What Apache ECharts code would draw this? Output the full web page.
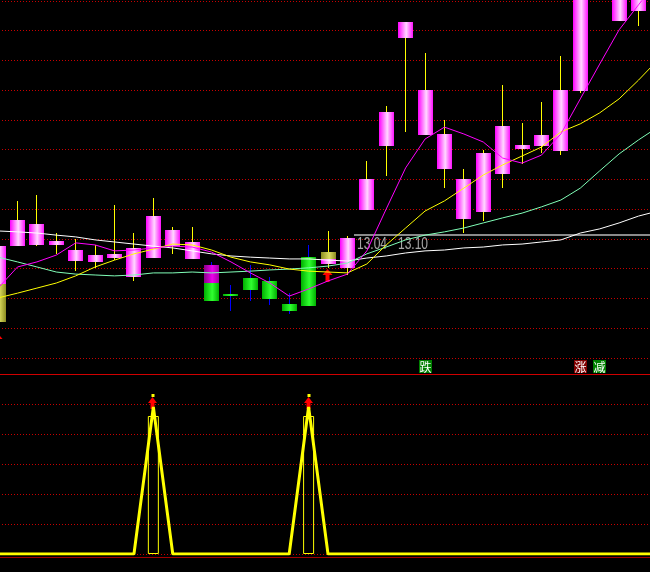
<!DOCTYPE html>
<html><head><meta charset="utf-8">
<script src="https://cdn.jsdelivr.net/npm/echarts@6/dist/echarts.min.js"></script>
<style>html,body{margin:0;padding:0;background:#000;overflow:hidden;width:650px;height:572px;position:relative}#c{position:absolute;left:-20px;top:0;width:700px;height:572px}</style>
</head><body><div id="c"></div>
<script>
// ---------- data ----------
const categories = ['1','2','3','4','5','6','7','8','9','10','11','12','13','14','15','16','17','18','19','20','21','22','23','24','25','26','27','28','29','30','31','32','33','34','35'];
const opens  = [12.949,13.076,13.080,13.080,13.026,13.023,13.036,12.972,13.036,13.076,13.033,13.013,12.915,12.969,12.959,12.882,13.039,13.016,13.003,13.197,13.413,13.776,13.450,13.335,13.167,13.191,13.318,13.403,13.413,13.396,13.597,13.937,13.833,13.866,null];
const closes = [13.076,13.164,13.150,13.093,13.063,13.046,13.050,13.070,13.177,13.130,13.090,12.892,12.908,12.929,12.898,12.858,12.875,13.056,13.103,13.302,13.527,13.829,13.601,13.453,13.302,13.389,13.480,13.416,13.450,13.601,14.038,14.172,14.038,14.004,null];
const lows   = [12.949,13.076,13.076,13.050,12.992,13.003,13.029,12.959,13.036,13.050,13.033,12.892,12.858,12.892,12.878,12.848,12.875,13.003,12.979,13.197,13.312,13.460,13.450,13.271,13.120,13.161,13.271,13.352,13.389,13.382,13.591,13.913,13.833,13.816,null];
const highs  = [13.076,13.228,13.248,13.120,13.100,13.080,13.214,13.120,13.238,13.140,13.140,13.023,12.945,13.013,12.972,12.918,13.080,13.127,13.110,13.362,13.547,13.829,13.725,13.500,13.335,13.399,13.618,13.490,13.561,13.715,14.105,14.206,14.072,14.038,null];
const ma5  = [12.935,13.006,13.023,13.046,13.087,13.080,13.060,13.063,13.070,13.076,13.073,13.056,13.023,12.986,12.952,12.908,12.932,12.959,12.982,13.060,13.201,13.339,13.436,13.476,13.453,13.426,13.372,13.355,13.382,13.453,13.571,13.688,13.803,13.887,13.971];
const ma10 = [12.902,12.918,12.935,12.952,12.976,13.006,13.029,13.050,13.066,13.083,13.080,13.063,13.039,13.023,13.013,12.999,12.992,12.989,12.986,13.016,13.080,13.137,13.194,13.228,13.271,13.315,13.349,13.379,13.409,13.460,13.487,13.524,13.571,13.634,13.702];
const ma20 = [13.039,13.023,13.006,12.989,12.982,12.979,12.976,12.979,12.986,12.986,12.989,12.986,12.989,12.992,12.996,12.999,13.003,13.009,13.019,13.050,13.073,13.097,13.113,13.124,13.137,13.154,13.171,13.187,13.208,13.231,13.271,13.329,13.386,13.433,13.476];
const ma60 = [13.127,13.124,13.120,13.113,13.107,13.097,13.090,13.083,13.076,13.070,13.060,13.050,13.043,13.039,13.036,13.033,13.033,13.029,13.026,13.036,13.043,13.053,13.060,13.063,13.070,13.073,13.080,13.083,13.090,13.097,13.120,13.134,13.154,13.177,13.194];
// overlay sticks: [category index, from price, to price, kind]
const overlays = [[0,12.949,12.821,'olive'],[11,13.013,12.952,'magenta'],[17,13.056,13.033,'olive']];
// up-arrow signals in price panel: [category index, tip price]
const upArrows = [[0,12.784],[17,12.999]];
// reference level line
const refLevel = 13.113, refStartCat = 18, refLabels = ['13.04','13.10'];
// text signals: [category index, text, kind]
const textSignals = [[22,'跌','down'],[30,'涨','up'],[31,'减','down']];
// lower indicator
const osc     = [0,0,0,0,0,0,0,0,98,0,0,0,0,0,0,0,98,0,0,0,0,0,0,0,0,0,0,0,0,0,0,0,0,0,0];
const oscBars = [null,null,null,null,null,null,null,null,92,null,null,null,null,null,null,null,92,null,null,null,null,null,null,null,null,null,null,null,null,null,null,null,null,null,null];
const oscSignals = [8,16];

// ---------- styles ----------
const Y_MIN = 12.7, Y_MAX = 13.9, Y_STEP = 0.1;
const BAND = 19.406, GL = 8.4, GW = BAND*categories.length;
const LG = (a,b,c)=>new echarts.graphic.LinearGradient(0,0,1,0,[{offset:0,color:a},{offset:0.55,color:b},{offset:1,color:c}]);
const fills = {
  up: LG('#ff00ff','#ffd8ff','#ff10ff'),
  down: LG('#00b000','#30ff30','#00b000'),
  olive: LG('#8c8c20','#dcdc60','#8c8c20'),
  magenta: LG('#880088','#ee00ee','#a000a0')
};
const tagBg = {down:'#008000', up:'#800000'};

const candleData = [];
categories.forEach((c,k)=>{ if(opens[k]!=null) candleData.push([k,opens[k],closes[k],lows[k],highs[k]]); });

function renderCandle(params, api){
  const cat=api.value(0), o=api.value(1), c=api.value(2), l=api.value(3), h=api.value(4);
  const pO=api.coord([cat,o]), pC=api.coord([cat,c]), pL=api.coord([cat,l]), pH=api.coord([cat,h]);
  const left=Math.round(pO[0]-7.5);
  const up=c>=o;
  const top=Math.round(Math.min(pO[1],pC[1])), bot=Math.round(Math.max(pO[1],pC[1]));
  const wt=Math.round(pH[1]), wb=Math.round(pL[1]);
  return {type:'group',children:[
    {type:'rect',shape:{x:left+7,y:wt,width:1,height:Math.max(wb-wt,0)},style:{fill:up?'#ffff00':'#0000ff'}},
    {type:'rect',shape:{x:left,y:top,width:15,height:Math.max(bot-top,2)},style:{fill:up?fills.up:fills.down}}
  ]};
}
function renderOverlay(params, api){
  const ov=overlays[params.dataIndex];
  const p1=api.coord([ov[0],ov[1]]), p2=api.coord([ov[0],ov[2]]);
  const left=Math.round(p1[0]-7.5);
  const t=Math.round(Math.min(p1[1],p2[1])), b=Math.round(Math.max(p1[1],p2[1]));
  return {type:'rect',shape:{x:left,y:t,width:15,height:b-t},style:{fill:fills[ov[3]]}};
}
function renderUpArrow(params, api){
  const p=api.coord([api.value(0),api.value(1)]);
  const cx=Math.round(p[0])-0.5, t=Math.round(p[1]);
  return {type:'group',children:[
    {type:'polygon',shape:{points:[[cx-5,t+6],[cx,t],[cx+5,t+6]]},style:{fill:'#ff0000'}},
    {type:'rect',shape:{x:cx-2,y:t+6,width:4,height:7},style:{fill:'#ff0000'}}
  ]};
}
function renderRef(params, api){
  const p=api.coord([api.value(0),api.value(1)]);
  const x0=Math.floor(p[0]+7), y=Math.round(p[1]);
  const right=params.coordSys.x+params.coordSys.width;
  const txt=(s,dx)=>({type:'text',x:x0+dx,y:y+2,scaleX:0.75,style:{text:s,fill:'#a8a8a8',font:'16px "Liberation Sans", sans-serif',textAlign:'left',textVerticalAlign:'top'}});
  return {type:'group',children:[
    {type:'line',shape:{x1:x0,y1:y,x2:right,y2:y},style:{stroke:'#8a8a8a',lineWidth:2}},
    txt(refLabels[0],3), txt(refLabels[1],44)
  ]};
}
function renderTag(params, api){
  const s=textSignals[params.dataIndex];
  const p=api.coord([s[0],Y_MIN]);
  const x=Math.round(p[0]-6.5), y=Math.round(p[1])+2;
  return {type:'group',children:[
    {type:'rect',shape:{x:x,y:y,width:13,height:13},style:{fill:tagBg[s[2]]}},
    {type:'text',x:x+6.5,y:y+7,style:{text:s[1],fill:'#ffffff',font:'12px "Noto Sans CJK SC", sans-serif',textAlign:'center',textVerticalAlign:'middle'}}
  ]};
}
function renderOscSignal(params, api){
  const cat=oscSignals[params.dataIndex];
  const p=api.coord([cat,osc[cat]]);
  const cx=Math.round(p[0])-0.5, t=Math.round(p[1])-10;
  return {type:'group',children:[
    {type:'rect',shape:{x:cx-1,y:t-3,width:3,height:3},style:{fill:'#ffff00'}},
    {type:'polygon',shape:{points:[[cx-4.5,t+6],[cx,t],[cx+4.5,t+6]]},style:{fill:'#ff0000'}},
    {type:'rect',shape:{x:cx-2,y:t+6,width:4,height:6},style:{fill:'#ff0000'}}
  ]};
}

const maLine=(data,color)=>({type:'line',xAxisIndex:0,yAxisIndex:0,data:data,symbol:'none',showSymbol:false,silent:true,lineStyle:{color:color,width:1},itemStyle:{color:color}});
const hidden={axisTick:{show:false},axisLabel:{show:false}};
const chart=echarts.init(document.getElementById('c'),null,{renderer:'canvas'});
chart.setOption({
  backgroundColor:'#000000',
  animation:false,
  grid:[{left:GL,width:GW,top:1,height:357},{left:GL,width:GW,top:374,height:180}],
  xAxis:[
    Object.assign({type:'category',gridIndex:0,data:categories,boundaryGap:true,offset:16,axisLine:{show:true,onZero:false,lineStyle:{color:'#d00000',width:1}},splitLine:{show:false}},hidden),
    Object.assign({type:'category',gridIndex:1,data:categories,boundaryGap:true,offset:3,axisLine:{show:true,onZero:false,lineStyle:{color:'#a00000',width:1}},splitLine:{show:false}},hidden)
  ],
  yAxis:[
    Object.assign({type:'value',gridIndex:0,min:Y_MIN,max:Y_MAX,interval:Y_STEP,axisLine:{show:false},splitLine:{show:true,lineStyle:{color:'#c80000',width:1,type:[1,2],dashOffset:1.4}}},hidden),
    Object.assign({type:'value',gridIndex:1,min:0,max:120,interval:20,axisLine:{show:false},splitLine:{show:true,lineStyle:{color:'#c80000',width:1,type:[1,2],dashOffset:1.4}}},hidden)
  ],
  series:[
    maLine(ma60,'#ffffff'),
    maLine(ma20,'#80ffb8'),
    maLine(ma10,'#ffff00'),
    maLine(ma5,'#ff00ff'),
    {type:'custom',xAxisIndex:0,yAxisIndex:0,data:[[refStartCat,refLevel]],renderItem:renderRef,silent:true},
    {type:'custom',xAxisIndex:0,yAxisIndex:0,data:candleData,renderItem:renderCandle,clip:false,silent:true},
    {type:'custom',xAxisIndex:0,yAxisIndex:0,data:overlays.map(o=>[o[0],o[1]]),renderItem:renderOverlay,clip:false,silent:true},
    {type:'custom',xAxisIndex:0,yAxisIndex:0,data:upArrows,renderItem:renderUpArrow,clip:false,silent:true},
    {type:'custom',xAxisIndex:0,yAxisIndex:0,data:textSignals.map(s=>[s[0],Y_MIN]),renderItem:renderTag,clip:false,silent:true},
    {type:'bar',xAxisIndex:1,yAxisIndex:1,data:oscBars,barWidth:11,silent:true,itemStyle:{color:'rgba(0,0,0,0)',borderColor:'#ffff00',borderWidth:1}},
    {type:'line',xAxisIndex:1,yAxisIndex:1,data:osc,symbol:'none',showSymbol:false,silent:true,lineStyle:{color:'#ffff00',width:3},itemStyle:{color:'#ffff00'}},
    {type:'custom',xAxisIndex:1,yAxisIndex:1,data:oscSignals.map(c=>[c,osc[c]]),renderItem:renderOscSignal,clip:false,silent:true}
  ]
});
</script>
</body></html>
